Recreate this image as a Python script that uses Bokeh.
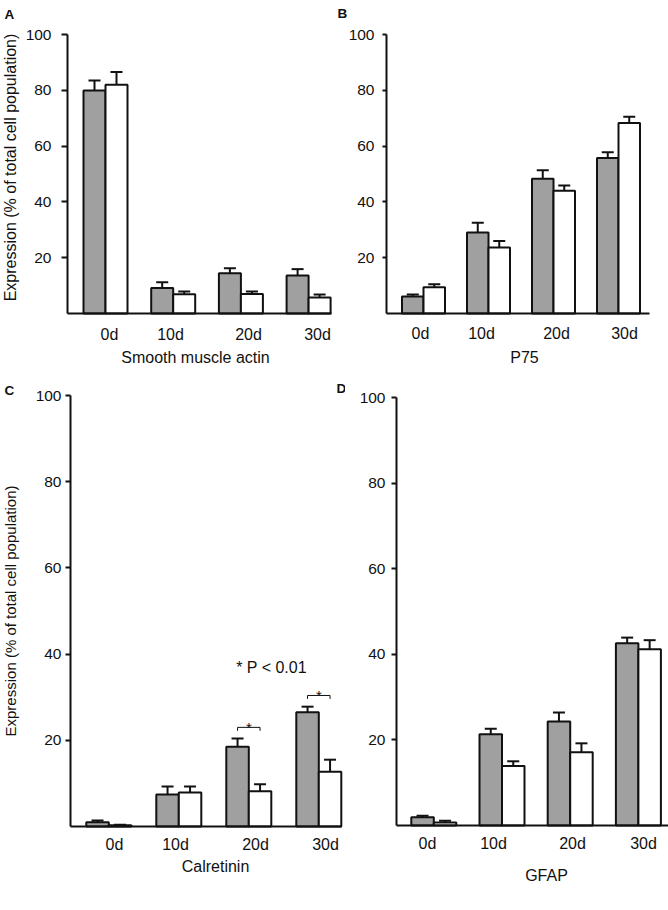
import math
from bokeh.plotting import figure
from bokeh.models import (Range1d, FixedTicker, ColumnDataSource, Whisker, TeeHead,
                          LinearAxis)
from bokeh.layouts import column, row
from bokeh.embed import file_html
from bokeh.resources import INLINE
from bokeh.core.properties import value

# ---------------- data ----------------
days = ["0d", "10d", "20d", "30d"]
markers = ["Smooth muscle actin", "P75", "Calretinin", "GFAP"]
letters = ["A", "B", "C", "D"]
y_title = "Expression (% of total cell population)"
y_ticks = [20, 40, 60, 80, 100]

sma_gray = [79.9, 9.1, 14.4, 13.6]
sma_gray_sem = [3.6, 2.1, 1.8, 2.3]
sma_white = [82.0, 6.9, 7.0, 5.7]
sma_white_sem = [4.6, 1.0, 0.9, 1.1]

p75_gray = [6.1, 29.0, 48.3, 55.7]
p75_gray_sem = [0.7, 3.5, 3.0, 2.1]
p75_white = [9.4, 23.7, 44.0, 68.3]
p75_white_sem = [1.1, 2.3, 1.9, 2.2]

calr_gray = [1.0, 7.4, 18.5, 26.5]
calr_gray_sem = [0.4, 1.9, 1.9, 1.3]
calr_white = [0.3, 7.9, 8.2, 12.7]
calr_white_sem = [0.1, 1.4, 1.6, 2.8]

gfap_gray = [1.9, 21.3, 24.3, 42.6]
gfap_gray_sem = [0.4, 1.3, 2.1, 1.3]
gfap_white = [0.7, 13.9, 17.1, 41.2]
gfap_white_sem = [0.4, 1.1, 2.1, 2.1]

calr_sig_days = ["20d", "30d"]
sig_star = "*"
sig_note = "* P < 0.01"

# ---------------- styling / layout (page pixels) ----------------
FONT = "Liberation Sans"
INK = "#111111"
GRAY = "#a0a0a0"
LETTER_SIZE = "13.5px"

TOP_H = 370
LAYOUT = {
    "A": dict(box=(0, 0, 336, TOP_H), frame=(67, 331, 34, 313), c0=105.0, step=67.7, bar=22,
              ticks=[109, 170, 248, 317], xstand=12, tick_out=6, ystand=10,
              ylab=("16px", 9.5, 167), xlab=(195, 357), letter=(4, 13.5)),
    "B": dict(box=(336, 0, 332, TOP_H), frame=(386, 649, 34, 313), c0=423.0, step=65.0, bar=21.5,
              ticks=[420, 481, 556, 624], xstand=11, tick_out=4, ystand=8,
              ylab=None, xlab=(524, 357), letter=(337, 12.5)),
    "C": dict(box=(0, TOP_H, 345, 910 - TOP_H), frame=(70, 341, 395, 826), c0=108.3, step=70.0, bar=22.5,
              ticks=[114, 175, 255, 325], xstand=9, tick_out=5, ystand=4,
              ylab=("15px", 9.5, 610.5), xlab=(215, 866), letter=(4, 389.5)),
    "D": dict(box=(345, TOP_H, 323, 910 - TOP_H), frame=(396, 668, 397, 825), c0=433.3, step=68.2, bar=22.5,
              ticks=[427, 493, 572, 643], xstand=9, tick_out=5, ystand=6,
              ylab=None, xlab=(546, 875), letter=None),
}
D_LETTER_IN_C = (336, 387.5)


def X2d(L, X):
    return (X - L["c0"]) / L["step"]


def Y2d(L, Y):
    fl, fr, ft, fb = L["frame"]
    return (fb - Y) * 100.0 / (fb - ft)


def add_text(p, L, X, Y, txt, size, align="center", baseline="alphabetic", bold=False, angle=0.0):
    p.text(x=[X2d(L, X)], y=[Y2d(L, Y)], text=[txt], angle=angle,
           text_align=align, text_baseline=baseline, text_font=value(FONT),
           text_font_size=size, text_font_style="bold" if bold else "normal",
           text_color=INK)


def make_panel(key, gray, gray_sem, white, white_sem, xlabel):
    L = LAYOUT[key]
    bx, by, w, h = L["box"]
    fl, fr, ft, fb = L["frame"]

    xr = Range1d(X2d(L, bx), X2d(L, bx + w))
    yr = Range1d(Y2d(L, by + h), Y2d(L, by))
    p = figure(width=w, height=h, x_range=xr, y_range=yr,
               x_axis_location=None, y_axis_location=None,
               output_backend="svg", toolbar_location=None, tools="")
    p.min_border = 0
    p.outline_line_color = None
    p.xgrid.visible = False
    p.ygrid.visible = False
    p.background_fill_color = "white"
    p.border_fill_color = "white"

    bw = L["bar"] / L["step"]
    idx = list(range(len(days)))
    gx = [i - bw / 2 for i in idx]
    wx = [i + bw / 2 for i in idx]

    src_g = ColumnDataSource(dict(x=gx, top=gray, up=[a + b for a, b in zip(gray, gray_sem)]))
    src_w = ColumnDataSource(dict(x=wx, top=white, up=[a + b for a, b in zip(white, white_sem)]))

    for src in (src_g, src_w):
        p.add_layout(Whisker(base="x", lower="top", upper="up", source=src,
                             line_color=INK, line_width=2, lower_head=None,
                             upper_head=TeeHead(size=12, line_color=INK, line_width=2)))
    p.vbar(x="x", top="top", width=bw, bottom=0, source=src_g,
           fill_color=GRAY, line_color=INK, line_width=2)
    p.vbar(x="x", top="top", width=bw, bottom=0, source=src_w,
           fill_color="white", line_color=INK, line_width=2)

    ya = LinearAxis(fixed_location=X2d(L, fl), bounds=(0, 100),
                    ticker=FixedTicker(ticks=y_ticks))
    ya.minor_tick_line_color = None
    ya.major_tick_in = 0
    ya.major_tick_out = L["tick_out"]
    ya.major_tick_line_width = 2
    ya.major_tick_line_color = INK
    ya.axis_line_width = 2
    ya.axis_line_color = INK
    ya.major_label_standoff = L["ystand"]
    ya.major_label_text_font = FONT
    ya.major_label_text_font_size = "15.5px"
    ya.major_label_text_color = INK
    p.add_layout(ya, "left")

    tick_u = [round(X2d(L, t), 4) for t in L["ticks"]]
    xa = LinearAxis(fixed_location=0, bounds=(X2d(L, fl), X2d(L, fr)),
                    ticker=FixedTicker(ticks=tick_u))
    xa.major_label_overrides = {t: d for t, d in zip(tick_u, days)}
    xa.major_tick_line_color = None
    xa.minor_tick_line_color = None
    xa.major_tick_in = 0
    xa.major_tick_out = 0
    xa.axis_line_width = 2
    xa.axis_line_color = INK
    xa.major_label_standoff = L["xstand"]
    xa.major_label_text_font = FONT
    xa.major_label_text_font_size = "16px"
    xa.major_label_text_color = INK
    p.add_layout(xa, "below")

    add_text(p, L, L["xlab"][0], L["xlab"][1], xlabel, "16px")
    if L["letter"]:
        add_text(p, L, L["letter"][0], L["letter"][1], key, LETTER_SIZE, align="left", bold=True)
    if L["ylab"]:
        size, cx, cy = L["ylab"]
        add_text(p, L, cx, cy, y_title, size, baseline="middle", angle=math.pi / 2)
    return p, bw


pA, _ = make_panel("A", sma_gray, sma_gray_sem, sma_white, sma_white_sem, markers[0])
pB, _ = make_panel("B", p75_gray, p75_gray_sem, p75_white, p75_white_sem, markers[1])
pC, bwC = make_panel("C", calr_gray, calr_gray_sem, calr_white, calr_white_sem, markers[2])
pD, _ = make_panel("D", gfap_gray, gfap_gray_sem, gfap_white, gfap_white_sem, markers[3])

LC = LAYOUT["C"]
# panel letter D sits left of panel D's canvas, so it is drawn from panel C
add_text(pC, LC, D_LETTER_IN_C[0], D_LETTER_IN_C[1], letters[3], LETTER_SIZE, align="left", bold=True)

xs, ys, sx_, sy_ = [], [], [], []
for d in calr_sig_days:
    i = days.index(d)
    x0b, x1b = i - bwC / 2, i + bwC / 2
    top_err = max(calr_gray[i] + calr_gray_sem[i], calr_white[i] + calr_white_sem[i])
    yb = top_err + 2.6
    xs.append([x0b, x0b, x1b, x1b])
    ys.append([yb - 0.8, yb, yb, yb - 0.8])
    sx_.append(i)
    sy_.append(yb)
pC.multi_line(xs=xs, ys=ys, line_color=INK, line_width=1)
pC.text(x=sx_, y=sy_, text=[sig_star] * len(sx_), text_align="center",
        text_baseline="alphabetic", y_offset=0, text_font=value(FONT),
        text_font_size="15px", text_color=INK)
add_text(pC, LC, 271, 666.7, sig_note, "16px", baseline="middle")

layout = column(row(pA, pB, spacing=0), row(pC, pD, spacing=0), spacing=0)
open("out.html", "w").write(file_html(layout, INLINE))
